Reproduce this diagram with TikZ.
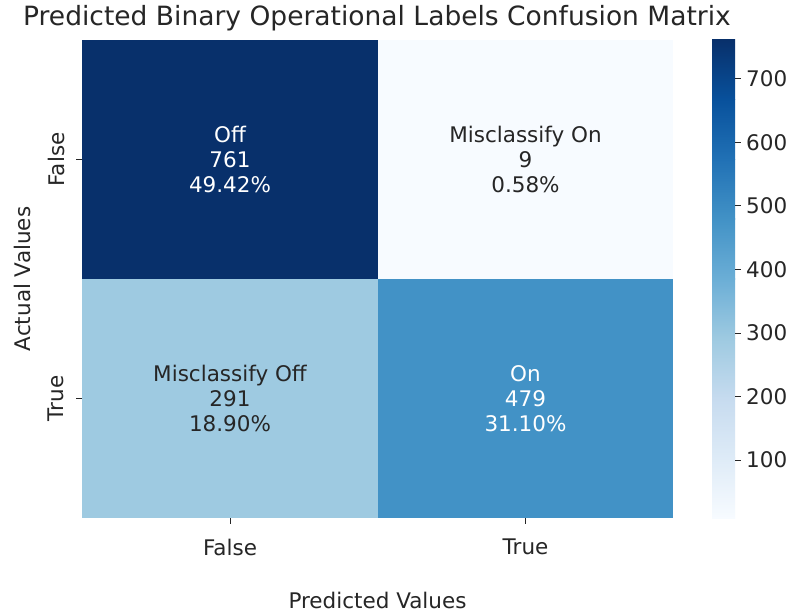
\documentclass[tikz,border=0pt]{standalone}
\usepackage{fontspec}
\setmainfont{DejaVu Sans}
\definecolor{txt}{HTML}{262626}
\definecolor{b0}{HTML}{F7FBFF}
\definecolor{b1}{HTML}{DEEBF7}
\definecolor{b2}{HTML}{C6DBEF}
\definecolor{b3}{HTML}{9ECAE1}
\definecolor{b4}{HTML}{6BAED6}
\definecolor{b5}{HTML}{4292C6}
\definecolor{b6}{HTML}{2171B5}
\definecolor{b7}{HTML}{08519C}
\definecolor{b8}{HTML}{08306B}
\begin{document}
\begin{tikzpicture}[x=1pt,y=-1pt,
  lbl/.style={font=\fontsize{21.5}{25}\selectfont, text=txt, inner sep=0pt},
  annot/.style={font=\fontsize{21.5}{25}\selectfont, align=center, inner sep=0pt},
  tickmark/.style={draw=txt, line width=0.9pt}]
\useasboundingbox (0,0) rectangle (792,615);
\fill[white] (0,0) rectangle (792,615);

% heatmap cells
\fill[b8] (82,40) rectangle (378,279);
\fill[b0] (378,40) rectangle (673,279);
\fill[b3] (82,279) rectangle (378,518);
\fill[b5] (378,279) rectangle (673,518);

% cell annotations
\node[annot, text=white] (c11) at (230,159.5) {Off\\761\\49.42\%};
\node[annot, text=txt] (c12) at (525.5,159.5) {Misclassify On\\9\\0.58\%};
\node[annot, text=txt] (c21) at (230,398.5) {Misclassify Off\\291\\18.90\%};
\node[annot, text=white] (c22) at (525.5,398.5) {On\\479\\31.10\%};

% title
\node[font=\fontsize{26.5}{30}\selectfont, text=txt, inner sep=0pt, anchor=base] (title) at (377,26) {Predicted Binary Operational Labels Confusion Matrix};

% x axis ticks and labels
\draw[tickmark] (230,518) -- (230,524);
\draw[tickmark] (525.5,518) -- (525.5,524);
\node[lbl] (xf) at (230,547) {False};
\node[lbl] (xt) at (525.5,547) {True};
\node[lbl] (xlab) at (377.5,600) {Predicted Values};

% y axis ticks and labels
\draw[tickmark] (82,159.5) -- (76,159.5);
\draw[tickmark] (82,398.5) -- (76,398.5);
\node[lbl, rotate=90] (yf) at (56,159.5) {False};
\node[lbl, rotate=90] (yt) at (56,398.5) {True};
\node[lbl, rotate=90] (ylab) at (22,279) {Actual Values};

% colorbar: Blues colormap in eight interpolated segments
\foreach \i/\lo/\hi in {0/b0/b1,1/b1/b2,2/b2/b3,3/b3/b4,4/b4/b5,5/b5/b6,6/b6/b7,7/b7/b8}{
  \shade[bottom color=\lo, top color=\hi]
    (712,{518-\i*59.75}) rectangle (735,{518-(\i+1)*59.75-0.3});
}
\foreach \v in {100,200,...,700}{
  \draw[tickmark] (735,{518-(\v-9)*0.63564}) -- (741,{518-(\v-9)*0.63564});
  \node[lbl, anchor=west] at (746,{518-(\v-9)*0.63564}) {\v};
}
\end{tikzpicture}
\end{document}
